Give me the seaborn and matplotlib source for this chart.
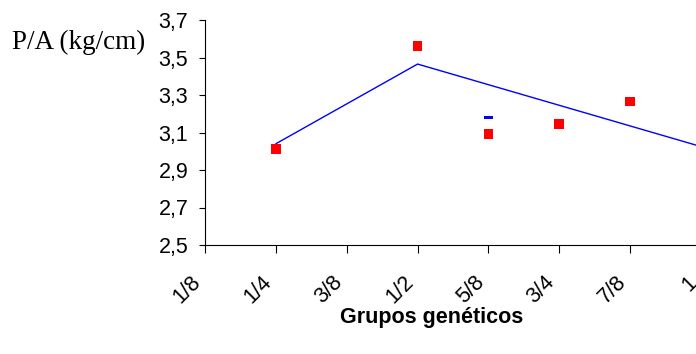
import numpy as np
import pandas as pd
import matplotlib
matplotlib.use("Agg")
import matplotlib.pyplot as plt
import seaborn as sns

# grupos geneticos (eixo x)
grupos = ["1/8", "1/4", "3/8", "1/2", "5/8", "3/4", "7/8", "1"]

# valores observados (quadrados vermelhos)
obs_grupos = ["1/4", "1/2", "5/8", "3/4", "7/8"]
obs_pa = [3.01, 3.56, 3.09, 3.145, 3.265]

# curva ajustada (linha azul)
fit_grupos = ["1/4", "1/2", "1"]
fit_pa = [3.04, 3.465, 3.025]

# ponto isolado azul
extra_grupo = ["5/8"]
extra_pa = [3.18]

yticks = [2.5, 2.7, 2.9, 3.1, 3.3, 3.5, 3.7]

sns.set_style("white")
plt.rcParams["font.family"] = ["Liberation Sans", "DejaVu Sans"]

pos = {g: i for i, g in enumerate(grupos)}
df_obs = pd.DataFrame({"x": [pos[g] for g in obs_grupos], "pa": obs_pa})
df_fit = pd.DataFrame({"x": [pos[g] for g in fit_grupos], "pa": fit_pa})
df_extra = pd.DataFrame({"x": [pos[g] for g in extra_grupo], "pa": extra_pa})

fig = plt.figure(figsize=(6.96, 3.54), dpi=100)
ax = fig.add_axes([205 / 696, 109 / 354, 496 / 696, 225 / 354])

sns.lineplot(data=df_fit, x="x", y="pa", ax=ax, color="#0000ff", lw=1.0)
sns.scatterplot(data=df_obs, x="x", y="pa", ax=ax, marker="s", color="#ff0000",
                s=50, edgecolor="none", zorder=3)
dash = [(-1, -0.45), (1, -0.45), (1, 0.45), (-1, 0.45), (-1, -0.45)]
sns.scatterplot(data=df_extra, x="x", y="pa", ax=ax, marker=dash, color="#0000ff",
                s=40, edgecolor="none", zorder=3)

ax.set_xlim(0, 7)
ax.set_ylim(2.5, 3.7)
ax.set_yticks(yticks)
ax.set_yticklabels([f"{v:.1f}".replace(".", ",") for v in yticks], fontsize=15.5,
                   color="black")
ax.set_xticks(range(len(grupos)))
ax.set_xticklabels(grupos, fontsize=15.5, rotation=45, ha="right", va="bottom",
                   rotation_mode="anchor", color="black")
ax.tick_params(axis="x", bottom=True, direction="out", length=6, width=0.8, pad=24,
               colors="black")
ax.tick_params(axis="y", left=True, direction="out", length=4, width=0.8, pad=8,
               colors="black")

sns.despine(ax=ax)
for s in ["left", "bottom"]:
    ax.spines[s].set_color("black")
    ax.spines[s].set_linewidth(0.8)

ax.set_xlabel("")
ax.set_ylabel("")
fig.text(432 / 696, 1 - 318 / 354, "Grupos genéticos", ha="center", va="center",
         fontsize=15.5, fontweight="bold", color="black")
fig.text(12 / 696, 1 - 42 / 354, "P/A (kg/cm)", ha="left", va="center",
         fontsize=19.5, family=["Liberation Serif", "DejaVu Serif"], color="black")

fig.savefig("out.png", dpi=100)
